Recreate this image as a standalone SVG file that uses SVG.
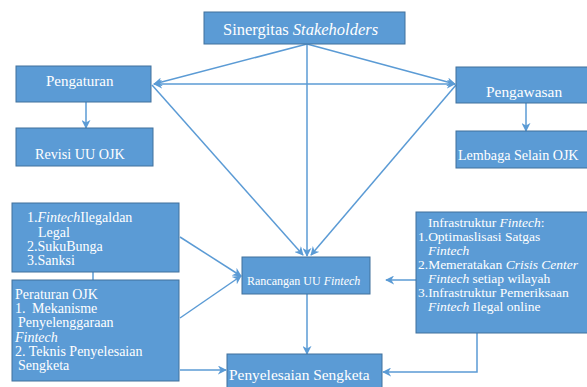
<svg xmlns="http://www.w3.org/2000/svg" width="587" height="387" viewBox="0 0 587 387">
<defs>
<style>
.box{fill:#5b9bd5;stroke:#41719c;stroke-width:1}
.t{fill:#fff;font-family:"Liberation Serif","DejaVu Serif",serif}
.i{font-style:italic}
.c{fill:none;stroke:#5b9bd5;stroke-width:1.5}
</style>
<marker id="ah" viewBox="0 0 10 10" refX="9" refY="5" markerWidth="9" markerHeight="9" markerUnits="userSpaceOnUse" orient="auto-start-reverse">
<path d="M0,0 L10,5 L0,10 L3,5 Z" fill="#5b9bd5"/>
</marker>
</defs>
<rect width="587" height="387" fill="#fff"/>
<g id="connectors">
<line class="c" x1="307" y1="44" x2="154" y2="84" marker-end="url(#ah)"/>
<line class="c" x1="307" y1="44" x2="455" y2="84" marker-end="url(#ah)"/>
<line class="c" x1="307" y1="44" x2="307" y2="256" marker-end="url(#ah)"/>
<line class="c" x1="154" y1="84" x2="455" y2="84" marker-start="url(#ah)" marker-end="url(#ah)"/>
<line class="c" x1="152" y1="85" x2="303" y2="255" marker-end="url(#ah)"/>
<line class="c" x1="456" y1="85" x2="311" y2="255" marker-end="url(#ah)"/>
<line class="c" x1="86" y1="102" x2="86" y2="128" marker-end="url(#ah)"/>
<line class="c" x1="526" y1="103" x2="526" y2="131" marker-end="url(#ah)"/>
<line class="c" x1="180" y1="237" x2="241" y2="276" marker-end="url(#ah)"/>
<line class="c" x1="180" y1="318" x2="241" y2="276" marker-end="url(#ah)"/>
<line class="c" x1="93" y1="272" x2="93" y2="280"/>
<line class="c" x1="180" y1="370" x2="226" y2="370" marker-end="url(#ah)"/>
<line class="c" x1="416" y1="280" x2="386" y2="280" marker-end="url(#ah)"/>
<polyline class="c" points="477,333 477,372 383,372" marker-end="url(#ah)"/>
<line class="c" x1="307" y1="294" x2="307" y2="354" marker-end="url(#ah)"/>
</g>
<g id="sinergitas">
<rect class="box" x="204" y="12" width="201" height="32"/>
<text class="t" x="223" y="35" font-size="16.5">Sinergitas <tspan class="i">Stakeholders</tspan></text>
</g>
<g id="pengaturan">
<rect class="box" x="16" y="66" width="135" height="36"/>
<text class="t" x="46" y="86" font-size="15">Pengaturan</text>
</g>
<g id="revisi">
<rect class="box" x="16" y="128" width="137" height="38"/>
<text class="t" x="35" y="159" font-size="14.2">Revisi UU OJK</text>
</g>
<g id="pengawasan">
<rect class="box" x="456" y="67" width="135" height="36"/>
<text class="t" x="486" y="97" font-size="15.4">Pengawasan</text>
</g>
<g id="lembaga">
<rect class="box" x="456" y="131" width="135" height="37"/>
<text class="t" x="458" y="160" font-size="14.1">Lembaga Selain OJK</text>
</g>
<g id="rancangan">
<rect class="box" x="242" y="257" width="128" height="37"/>
<text class="t" x="247" y="285" font-size="12">Rancangan UU <tspan class="i">Fintech</tspan></text>
</g>
<g id="penyelesaian">
<rect class="box" x="227" y="354" width="155" height="40"/>
<text class="t" x="229" y="380" font-size="15.4">Penyelesaian Sengketa</text>
</g>
<g id="faktor">
<rect class="box" x="12" y="203" width="167" height="69"/>
<text class="t" font-size="14">
<tspan x="27" y="222">1.<tspan class="i">Fintech</tspan>Ilegaldan</tspan>
<tspan x="38" y="237">Legal</tspan>
<tspan x="27" y="251">2.SukuBunga</tspan>
<tspan x="27" y="265">3.Sanksi</tspan>
</text>
</g>
<g id="peraturan">
<rect class="box" x="12" y="280" width="167" height="101"/>
<text class="t" font-size="14">
<tspan x="15" y="299">Peraturan OJK</tspan>
<tspan x="15" y="313">1.</tspan><tspan x="32" y="313">Mekanisme</tspan>
<tspan x="18" y="327">Penyelenggaraan</tspan>
<tspan x="15" y="342" class="i">Fintech</tspan>
<tspan x="15" y="356">2. Teknis Penyelesaian</tspan>
<tspan x="18" y="370">Sengketa</tspan>
</text>
</g>
<g id="infrastruktur">
<rect class="box" x="416" y="212" width="175" height="121"/>
<text class="t" font-size="13.5">
<tspan x="428" y="227">Infrastruktur <tspan class="i">Fintech</tspan>:</tspan>
<tspan x="418" y="241">1.Optimaslisasi Satgas</tspan>
<tspan x="428" y="255" class="i">Fintech</tspan>
<tspan x="418" y="269">2.Memeratakan <tspan class="i">Crisis Center</tspan></tspan>
<tspan x="428" y="283"><tspan class="i">Fintech</tspan> setiap wilayah</tspan>
<tspan x="418" y="297">3.Infrastruktur Pemeriksaan</tspan>
<tspan x="428" y="311"><tspan class="i">Fintech</tspan> Ilegal online</tspan>
</text>
</g>
</svg>
